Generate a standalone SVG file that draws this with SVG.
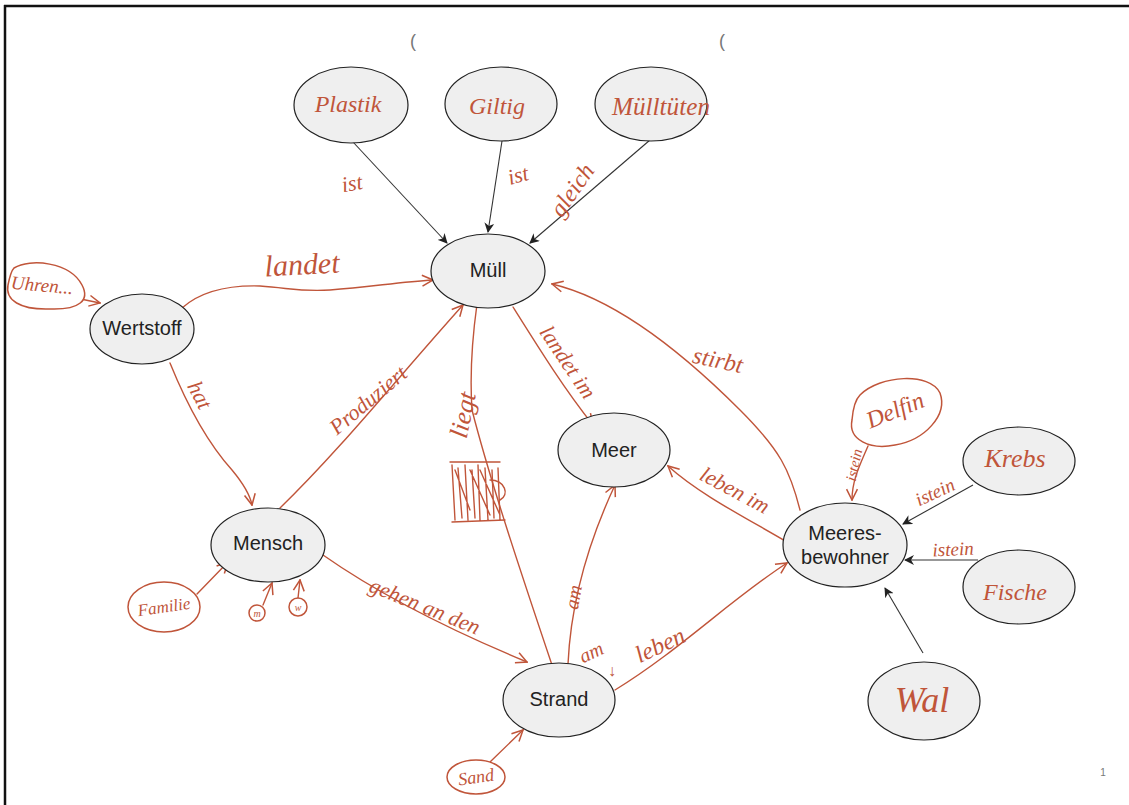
<svg xmlns="http://www.w3.org/2000/svg" width="1129" height="805" viewBox="0 0 1129 805">
<style>
.node{fill:#efefef;stroke:#222;stroke-width:1.2}
.pt{font-family:"Liberation Sans",Arial,sans-serif;font-size:20px;fill:#222;text-anchor:middle;dominant-baseline:central}
.hw{font-family:"Liberation Serif","Times New Roman",serif;font-style:italic;fill:#c0553a;text-anchor:middle;dominant-baseline:central}
.red{fill:none;stroke:#c0553a;stroke-width:1.4;stroke-linecap:round;stroke-linejoin:round}
.blk{fill:none;stroke:#333;stroke-width:1.1}
.blob{fill:#fff;stroke:#c0553a;stroke-width:1.5}
</style>
<defs>
<marker id="ab" viewBox="0 0 10 10" refX="9" refY="5" markerWidth="10" markerHeight="10" markerUnits="userSpaceOnUse" orient="auto">
<path d="M0,0 L10,5 L0,10 L3,5 Z" fill="#222"/>
</marker>
<marker id="ar" viewBox="0 0 12 12" refX="11" refY="6" markerWidth="13" markerHeight="13" markerUnits="userSpaceOnUse" orient="auto">
<path d="M1,1 L11,6 L1,11" fill="none" stroke="#c0553a" stroke-width="1.4"/>
</marker>
</defs>
<rect width="1129" height="805" fill="#fff"/>
<g id="frame">
<line x1="4" y1="6" x2="1129" y2="6" stroke="#111" stroke-width="2.5"/>
<line x1="5" y1="5" x2="5" y2="805" stroke="#111" stroke-width="2.5"/>
<text x="413" y="47" font-family="Liberation Sans,sans-serif" font-size="18" fill="#777" text-anchor="middle">(</text>
<text x="722" y="47" font-family="Liberation Sans,sans-serif" font-size="18" fill="#777" text-anchor="middle">(</text>
<text x="1103" y="776" font-family="Liberation Sans,sans-serif" font-size="10" fill="#777" text-anchor="middle">1</text>
</g>
<g id="connectors">
<line class="blk" x1="353" y1="142" x2="447" y2="243" marker-end="url(#ab)"/>
<line class="blk" x1="502" y1="141" x2="488" y2="232" marker-end="url(#ab)"/>
<line class="blk" x1="650" y1="140" x2="530" y2="243" marker-end="url(#ab)"/>
<line class="blk" x1="973" y1="485" x2="903" y2="524" marker-end="url(#ab)"/>
<line class="blk" x1="978" y1="560" x2="905" y2="560" marker-end="url(#ab)"/>
<line class="blk" x1="923" y1="653" x2="885" y2="588" marker-end="url(#ab)"/>
<path class="red" d="M182,308 C200,292 225,285 260,286 C290,288 300,292 330,290 C370,287 400,282 433,280" marker-end="url(#ar)"/>
<path class="red" d="M66,296 L100,303" marker-end="url(#ar)"/>
<path class="red" d="M170,363 C185,400 205,440 232,470 C242,482 250,495 252,505" marker-end="url(#ar)"/>
<path class="red" d="M280,508 C340,450 400,375 463,305" marker-end="url(#ar)"/>
<path class="red" d="M477,304 C472,340 470,380 472,410 C490,480 520,570 553,668"/>
<path class="red" d="M513,307 C540,350 565,390 593,425" marker-end="url(#ar)"/>
<path class="red" d="M800,510 C790,470 780,450 740,410 C690,360 620,300 552,284" marker-end="url(#ar)"/>
<path class="red" d="M787,542 C750,520 700,495 668,466" marker-end="url(#ar)"/>
<path class="red" d="M323,555 C380,595 450,630 527,662" marker-end="url(#ar)"/>
<path class="red" d="M568,664 C570,620 580,560 615,485" marker-end="url(#ar)"/>
<path class="red" d="M615,690 C680,650 730,600 787,563" marker-end="url(#ar)"/>
<path class="red" d="M868,446 C860,465 852,480 852,500" marker-end="url(#ar)"/>
<path class="red" d="M197,594 L228,562" marker-end="url(#ar)"/>
<path class="red" d="M263,605 L272,583" marker-end="url(#ar)"/>
<path class="red" d="M298,598 L300,580" marker-end="url(#ar)"/>
<path class="red" d="M490,762 L523,730" marker-end="url(#ar)"/>
<path class="red" d="M450,462 L500,462 M452,522 L505,520 M452,465 L455,520 M458,468 L462,518 M465,465 L468,520 M472,470 L475,518 M478,465 L480,520 M485,468 L488,520 M492,470 L494,518 M498,468 L500,520 M455,470 L470,510 M470,470 L490,515 M480,470 L500,515" stroke-width="1.6"/>
<path class="red" d="M490,480 C505,480 510,495 500,500"/>
<text class="hw" font-size="22" transform="translate(352,183) rotate(-10)">ist</text>
<text class="hw" font-size="22" transform="translate(518,175) rotate(-15)">ist</text>
<text class="hw" font-size="24" transform="translate(572,190) rotate(-55)">gleich</text>
<text class="hw" font-size="30" transform="translate(302,264) rotate(-3)">landet</text>
<text class="hw" font-size="22" transform="translate(200,395) rotate(62)">hat</text>
<text class="hw" font-size="22" transform="translate(368,400) rotate(-40)">Produziert</text>
<text class="hw" font-size="26" transform="translate(463,415) rotate(-78)">liegt</text>
<text class="hw" font-size="22" transform="translate(568,362) rotate(56)">landet im</text>
<text class="hw" font-size="24" transform="translate(718,360) rotate(12)">stirbt</text>
<text class="hw" font-size="22" transform="translate(735,490) rotate(28)">leben im</text>
<text class="hw" font-size="22" transform="translate(425,606) rotate(22)">gehen an den</text>
<text class="hw" font-size="20" transform="translate(573,597) rotate(-80)">am</text>
<text class="hw" font-size="20" transform="translate(591,652) rotate(-25)">am</text>
<text class="hw" font-size="16" transform="translate(612,670)">↓</text>
<text class="hw" font-size="24" transform="translate(660,645) rotate(-25)">leben</text>
<text class="hw" font-size="15" transform="translate(854,465) rotate(-78)">istein</text>
<text class="hw" font-size="19" transform="translate(935,492) rotate(-25)">istein</text>
<text class="hw" font-size="19" transform="translate(953,549) rotate(-3)">istein</text>
</g>
<g id="plastik"><ellipse class="node" cx="351" cy="105" rx="57" ry="38"/><text class="hw" font-size="24" x="348" y="104">Plastik</text></g>
<g id="giltig"><ellipse class="node" cx="501" cy="104" rx="56" ry="37"/><text class="hw" font-size="24" x="497" y="106">Giltig</text></g>
<g id="muelltueten"><ellipse class="node" cx="651" cy="104" rx="56" ry="37"/><text class="hw" font-size="26" x="661" y="106" textLength="98" lengthAdjust="spacingAndGlyphs">Mülltüten</text></g>
<g id="muell"><ellipse class="node" cx="488" cy="271" rx="57" ry="37"/><text class="pt" x="488" y="270">Müll</text></g>
<g id="wertstoff"><ellipse class="node" cx="142" cy="329" rx="52" ry="35"/><text class="pt" x="142" y="328">Wertstoff</text></g>
<g id="uhren"><path class="blob" d="M14,268 C30,258 70,262 82,285 C90,300 80,310 50,309 C20,310 5,300 8,285 C10,275 12,270 14,268 Z"/><text class="hw" font-size="19" x="42" y="285" transform="rotate(5 42 285)">Uhren...</text></g>
<g id="mensch"><ellipse class="node" cx="268" cy="545" rx="57" ry="37"/><text class="pt" x="268" y="543">Mensch</text></g>
<g id="familie"><ellipse class="blob" cx="164" cy="607" rx="36" ry="25"/><text class="hw" font-size="17" x="164" y="607" transform="rotate(-8 164 607)">Familie</text></g>
<g id="m"><circle class="blob" cx="257" cy="613" r="8"/><text class="hw" font-size="10" x="257" y="613">m</text></g>
<g id="w"><circle class="blob" cx="298" cy="607" r="9"/><text class="hw" font-size="10" x="298" y="607">w</text></g>
<g id="meer"><ellipse class="node" cx="614" cy="450" rx="56" ry="37"/><text class="pt" x="614" y="450">Meer</text></g>
<g id="strand"><ellipse class="node" cx="559" cy="700" rx="56" ry="37"/><text class="pt" x="559" y="699">Strand</text></g>
<g id="sand"><ellipse class="blob" cx="476" cy="777" rx="29" ry="17"/><text class="hw" font-size="18" x="476" y="777" transform="rotate(-8 476 777)">Sand</text></g>
<g id="meeresbewohner"><ellipse class="node" cx="845" cy="545" rx="62" ry="42"/><text class="pt" x="845" y="533">Meeres-</text><text class="pt" x="845" y="557">bewohner</text></g>
<g id="delfin"><path class="blob" d="M860,395 C880,375 930,372 940,393 C948,415 925,440 895,445 C870,450 848,440 852,420 C853,408 855,400 860,395 Z"/><text class="hw" font-size="24" x="895" y="410" transform="rotate(-22 895 410)">Delfin</text></g>
<g id="krebs"><ellipse class="node" cx="1019" cy="461" rx="56" ry="34"/><text class="hw" font-size="26" x="1015" y="458">Krebs</text></g>
<g id="fische"><ellipse class="node" cx="1019" cy="587" rx="56" ry="37"/><text class="hw" font-size="24" x="1015" y="592">Fische</text></g>
<g id="wal"><ellipse class="node" cx="924" cy="701" rx="56" ry="39"/><text class="hw" font-size="36" x="922" y="700">Wal</text></g>
</svg>
